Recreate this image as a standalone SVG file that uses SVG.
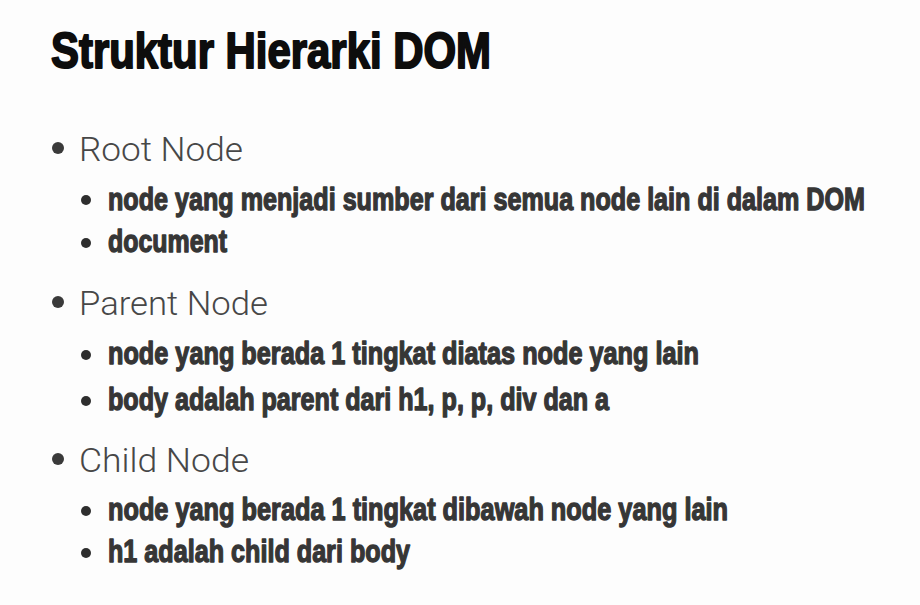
<svg xmlns="http://www.w3.org/2000/svg" width="920" height="605" viewBox="0 0 920 605">
<style>
.title{font-family:"Liberation Sans",Arial,sans-serif;font-weight:bold;font-size:50px;fill:#0d0d0d;stroke:#0d0d0d;stroke-width:2px;stroke-linejoin:round}
.l1{font-family:Roboto,"Liberation Sans",sans-serif;font-weight:300;font-size:34px;fill:#474747}
.l2{font-family:"Liberation Sans",Arial,sans-serif;font-weight:bold;font-size:32px;fill:#363636;stroke:#363636;stroke-width:1.4px;stroke-linejoin:round}
.b1{fill:#3a3a3a}
.b2{fill:#2e2e2e}
</style>
<rect width="920" height="605" fill="#fdfdfd"/>
<g id="title">
<text class="title" x="51" y="68" textLength="440" lengthAdjust="spacingAndGlyphs">Struktur Hierarki DOM</text>
</g>
<g id="root-node">
<circle class="b1" cx="58" cy="148" r="6"/>
<text class="l1" x="79" y="161" textLength="164" lengthAdjust="spacingAndGlyphs">Root Node</text>
<circle class="b2" cx="86" cy="200" r="5"/>
<text class="l2" x="108" y="210" textLength="757" lengthAdjust="spacingAndGlyphs">node yang menjadi sumber dari semua node lain di dalam DOM</text>
<circle class="b2" cx="86" cy="243" r="5"/>
<text class="l2" x="108" y="252" textLength="119" lengthAdjust="spacingAndGlyphs">document</text>
</g>
<g id="parent-node">
<circle class="b1" cx="58" cy="302" r="6"/>
<text class="l1" x="79" y="315" textLength="189" lengthAdjust="spacingAndGlyphs">Parent Node</text>
<circle class="b2" cx="86" cy="355" r="5"/>
<text class="l2" x="108" y="364" textLength="591" lengthAdjust="spacingAndGlyphs">node yang berada 1 tingkat diatas node yang lain</text>
<circle class="b2" cx="86" cy="401" r="5"/>
<text class="l2" x="108" y="410" textLength="501" lengthAdjust="spacingAndGlyphs">body adalah parent dari h1, p, p, div dan a</text>
</g>
<g id="child-node">
<circle class="b1" cx="58" cy="459" r="6"/>
<text class="l1" x="79" y="472" textLength="170" lengthAdjust="spacingAndGlyphs">Child Node</text>
<circle class="b2" cx="86" cy="511" r="5"/>
<text class="l2" x="108" y="520" textLength="620" lengthAdjust="spacingAndGlyphs">node yang berada 1 tingkat dibawah node yang lain</text>
<circle class="b2" cx="86" cy="553" r="5"/>
<text class="l2" x="108" y="562" textLength="302" lengthAdjust="spacingAndGlyphs">h1 adalah child dari body</text>
</g>
</svg>
